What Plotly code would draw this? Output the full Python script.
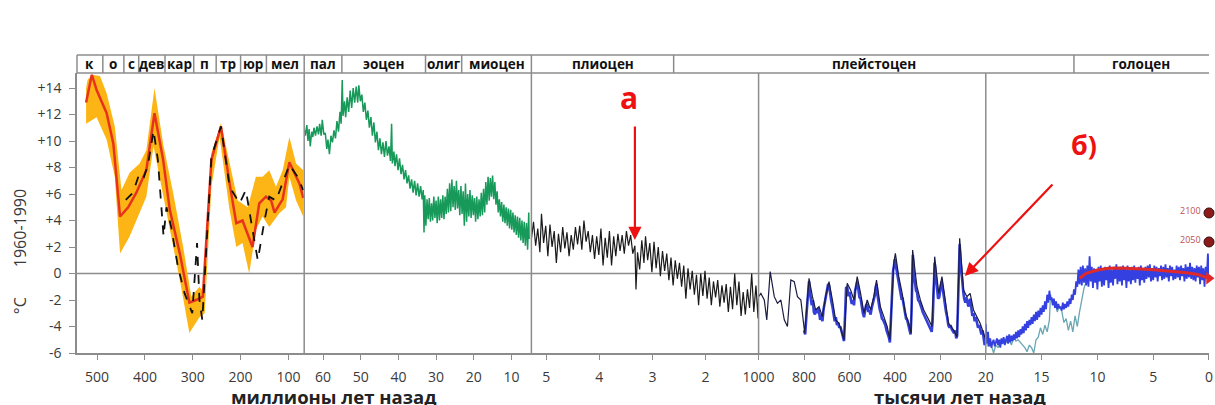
import plotly.graph_objects as go

# ---------------- data ----------------
# Segment 1: Phanerozoic (millions of years ago)
red_my = [523, 511, 501, 480, 466, 452, 435, 418, 397, 380, 362, 348, 327, 307, 293, 279, 261, 241, 223, 209, 196, 175, 161, 147, 136, 129, 119, 112, 98, 77, 69]
red_t = [12.9, 15.0, 13.85, 12.1, 9.8, 4.3, 5.0, 6.1, 7.8, 12.1, 8.6, 4.8, 1.5, -2.2, -2.0, -1.75, 8.6, 11.1, 6.8, 3.8, 4.0, 2.0, 5.3, 5.8, 5.5, 4.6, 5.2, 5.6, 8.4, 6.8, 5.7]

band_up_my = [523, 520, 511, 494, 480, 463, 449, 432, 411, 397, 380, 362, 341, 320, 303, 286, 275, 261, 241, 220, 206, 185, 168, 154, 140, 126, 112, 98, 84, 69]
band_up_t = [14.0, 14.6, 15.0, 14.9, 13.6, 11.1, 6.3, 7.6, 8.3, 9.3, 14.0, 9.8, 6.1, 2.0, -1.75, -1.0, -1.5, 9.1, 11.35, 7.8, 5.5, 5.0, 7.3, 7.3, 7.8, 6.55, 7.8, 10.3, 8.3, 7.8]
band_lo_my = [523, 501, 480, 463, 452, 432, 411, 397, 382, 362, 348, 327, 307, 286, 275, 261, 244, 223, 209, 196, 182, 168, 154, 140, 119, 105, 98, 84, 69]
band_lo_t = [11.3, 11.8, 10.1, 7.3, 1.5, 2.8, 4.55, 5.8, 9.6, 6.1, 3.3, -0.5, -4.5, -3.3, -3.0, 6.55, 10.3, 4.8, 2.0, 2.3, 0.0, 3.3, 4.3, 3.5, 4.55, 5.0, 7.3, 5.5, 4.3]

dash_my = [440, 425, 411, 402, 393, 382, 373, 361, 355, 345, 331, 317, 301, 291, 286, 280, 273, 261, 241, 223, 202, 189, 175, 164, 150, 140, 126, 112, 98, 81, 69]
dash_t = [5.55, 6.1, 7.6, 7.3, 8.3, 10.8, 8.6, 2.8, 5.0, 3.5, 0.5, -1.5, -3.0, 2.3, -2.0, -3.5, 1.0, 8.8, 11.1, 6.55, 5.3, 6.3, 3.3, 1.0, 4.0, 5.8, 5.5, 6.8, 8.2, 7.3, 6.3]

# Segment 2: Cenozoic (millions of years ago)
green_my = [65.0, 64.7, 64.3, 64.0, 63.7, 63.4, 63.0, 62.7, 62.4, 62.0, 61.6, 61.2, 60.9, 60.5, 60.2, 59.8, 59.4, 59.0, 58.7, 58.3,
            57.9, 57.5, 57.1, 56.7, 56.3, 55.9, 55.5, 55.2, 54.9, 54.7, 54.3, 54.0, 53.6, 53.2, 52.8, 52.4, 52.0, 51.6, 51.2, 50.8,
            50.5, 50.1, 49.7, 49.3, 48.9, 48.5, 48.1, 47.7, 47.3, 46.9, 46.5, 46.1, 45.7, 45.3, 44.9, 44.5, 44.1, 43.7, 43.3, 42.9,
            42.5, 42.1, 41.8, 41.6, 41.2, 40.9, 40.5, 40.1, 39.7, 39.3, 38.9, 38.5, 38.1, 37.7, 37.3, 36.9, 36.5, 36.1, 35.7, 35.3,
            34.9, 34.5, 34.1, 33.7, 33.4, 33.2, 33.0, 32.7, 32.4, 32.1, 31.8, 31.5, 31.2, 30.9, 30.6, 30.3, 30.0, 29.7, 29.4, 29.1,
            28.8, 28.5, 28.2, 27.9, 27.6, 27.3, 27.0, 26.7, 26.4, 26.1, 25.8, 25.5, 25.2, 24.9, 24.6, 24.3, 24.0, 23.7, 23.4, 23.1,
            22.8, 22.5, 22.2, 21.9, 21.6, 21.3, 21.0, 20.7, 20.4, 20.1, 19.8, 19.5, 19.2, 18.9, 18.6, 18.3, 18.0, 17.7, 17.4, 17.1,
            16.8, 16.5, 16.2, 15.9, 15.6, 15.3, 15.0, 14.7, 14.4, 14.1, 13.8, 13.5, 13.2, 12.9, 12.6, 12.3, 12.0, 11.7, 11.4, 11.1,
            10.8, 10.5, 10.2, 9.9, 9.6, 9.3, 9.0, 8.7, 8.4, 8.1, 7.8, 7.5, 7.2, 6.9, 6.6, 6.3, 6.0, 5.7, 5.4, 5.3]
green_t = [10.9, 10.4, 11.2, 10.0, 10.9, 9.6, 10.7, 10.3, 11.0, 10.4, 11.1, 10.5, 11.3, 10.4, 11.6, 10.5, 10.6, 9.4, 10.1, 9.0,
           10.4, 9.9, 10.8, 10.2, 11.5, 10.7, 12.2, 11.3, 14.6, 11.9, 13.0, 11.8, 13.3, 12.2, 13.8, 12.5, 14.0, 12.9, 14.1, 12.9,
           14.2, 13.0, 13.5, 12.2, 12.9, 11.6, 12.3, 11.0, 11.8, 10.4, 11.4, 9.9, 10.7, 9.3, 10.2, 9.0, 9.9, 8.8, 10.0, 8.9,
           9.6, 8.5, 11.3, 8.3, 9.2, 8.1, 9.0, 7.8, 8.7, 7.5, 8.2, 7.1, 7.8, 6.8, 7.4, 6.4, 7.1, 6.1, 7.0, 5.9,
           6.8, 5.8, 6.6, 5.6, 6.3, 3.1, 5.9, 3.6, 5.6, 4.1, 5.7, 3.9, 5.3, 4.0, 5.8, 4.2, 5.5, 3.8, 5.8, 4.0,
           5.6, 4.2, 5.9, 4.1, 5.8, 4.5, 6.4, 4.6, 6.8, 4.7, 7.1, 5.0, 6.6, 4.8, 7.0, 4.9, 6.3, 4.4, 6.6, 4.5,
           6.2, 3.6, 6.8, 3.9, 6.0, 4.3, 6.3, 4.2, 5.9, 4.4, 5.7, 3.9, 5.8, 4.1, 5.6, 4.3, 6.1, 4.4, 6.4, 4.6,
           6.9, 5.2, 7.3, 5.5, 7.2, 5.8, 7.4, 5.6, 6.9, 5.2, 6.2, 4.6, 5.6, 4.3, 5.4, 3.9, 5.2, 3.8, 5.0, 3.6,
           4.9, 3.4, 4.8, 3.3, 4.6, 3.1, 4.4, 2.9, 4.3, 2.7, 4.2, 2.5, 4.0, 2.3, 3.9, 2.1, 3.8, 1.8, 4.6, 2.6]

# Segment 3: Pliocene - early Pleistocene (millions of years ago)
plio_my = [5.28, 5.24, 5.20, 5.16, 5.12, 5.09, 5.05, 5.01, 4.97, 4.93, 4.89, 4.85, 4.81, 4.77, 4.73, 4.69, 4.65, 4.61, 4.57, 4.53,
           4.49, 4.45, 4.41, 4.37, 4.33, 4.29, 4.25, 4.21, 4.17, 4.13, 4.09, 4.05, 4.01, 3.97, 3.93, 3.89, 3.85, 3.81, 3.77, 3.73,
           3.69, 3.65, 3.61, 3.57, 3.53, 3.49, 3.45, 3.41, 3.37, 3.33, 3.31, 3.28, 3.24, 3.20, 3.16, 3.13, 3.09, 3.05, 3.01, 2.97,
           2.93, 2.89, 2.85, 2.81, 2.77, 2.73, 2.69, 2.65, 2.61, 2.57, 2.53, 2.49, 2.45, 2.41, 2.37, 2.33, 2.29, 2.25, 2.21, 2.17,
           2.13, 2.09, 2.05, 2.01, 1.97, 1.93, 1.89, 1.85, 1.81, 1.77, 1.73, 1.69, 1.65, 1.61, 1.57, 1.53, 1.49, 1.45, 1.41, 1.37,
           1.33, 1.29, 1.25, 1.21, 1.17, 1.13, 1.09, 1.05, 1.01, 1.00]
plio_t = [2.6, 3.9, 2.1, 3.4, 1.6, 4.5, 2.3, 3.6, 1.3, 3.7, 2.0, 3.2, 0.8, 3.0, 1.6, 3.5, 1.9, 3.1, 1.3, 2.9,
          1.8, 3.5, 2.2, 3.6, 1.8, 4.0, 2.4, 3.2, 1.6, 2.9, 1.1, 2.8, 1.4, 3.4, 0.6, 2.7, 1.2, 3.2, 0.6, 2.8,
          1.3, 3.0, 1.7, 2.9, 1.5, 3.2, 2.1, 2.9, 1.5, 2.1, -1.2, 1.6, 0.3, 2.5, 0.8, 2.8, 1.0, 2.3, 0.1, 2.4,
          0.4, 2.0, -0.2, 1.7, 0.2, 1.5, -0.5, 1.2, -0.9, 1.0, -0.4, 0.8, -1.0, 0.6, -1.9, 0.4, -1.2, 0.2, -1.6, -0.1,
          -2.4, 0.0, -1.7, 0.2, -1.9, -0.3, -2.4, -0.6, -1.8, -0.5, -2.5, -0.9, -2.2, -0.8, -2.9, -1.0, -2.7, 0.0, -2.4, -0.6,
          -3.2, -1.4, -3.1, -1.2, -2.6, 0.0, -2.9, -0.9, -3.4, -1.6]

# Segment 4: last million years (thousands of years ago)
pleist_ky = [1000, 990, 975, 964, 949, 931, 917, 902, 887, 873, 858, 843, 829, 814, 797, 778, 763, 749, 734, 719,
             705, 690, 675, 661, 646, 624, 610, 595, 580, 566, 551, 536, 522, 507, 493, 481, 464, 449, 434, 422,
             405, 398, 383, 368, 354, 339, 329, 322, 303, 288, 273, 251, 237, 225, 207, 193, 178, 164, 142, 127,
             115, 105, 98, 83, 69, 54, 39, 25, 10, 0]
pleist_t = [-1.75, -1.5, -2.0, -3.5, 0.14, -1.75, -2.25, -2.0, -3.5, -4.0, -0.49, -0.62, -1.75, -2.0, -4.5, -0.36, -1.75, -2.75, -2.5, -3.26,
            -1.75, -0.62, -2.0, -3.5, -3.76, -5.0, -0.74, -1.25, -2.0, -0.24, -1.5, -3.0, -2.0, -2.75, -1.75, -0.49, -2.5, -3.26, -4.0, -5.0,
            0.77, 1.52, -0.24, -1.5, -3.0, -3.76, -4.5, 1.77, -1.0, -2.0, -2.75, -3.5, -4.0, 1.27, -1.5, -0.24, -2.0, -3.76, -4.26, -4.77,
            2.65, 0.52, -1.25, -1.75, -1.5, -2.75, -3.26, -3.76, -4.5, -5.0]

ice_ky = [800, 795, 788, 782, 778, 774, 770, 766, 761, 757, 752, 748, 743, 738, 734, 729, 724, 719, 714, 709,
          704, 699, 694, 690, 685, 680, 675, 670, 665, 660, 655, 650, 645, 640, 635, 630, 624, 619, 615, 610,
          605, 600, 595, 590, 585, 580, 575, 570, 566, 561, 556, 551, 546, 541, 536, 531, 527, 522, 517, 512,
          507, 502, 497, 493, 488, 484, 481, 477, 472, 467, 462, 457, 452, 447, 442, 437, 432, 427, 422, 417,
          412, 408, 404, 400, 396, 391, 386, 381, 376, 371, 366, 361, 356, 351, 346, 341, 336, 331, 327, 324,
          321, 317, 312, 307, 303, 298, 293, 288, 283, 278, 273, 268, 263, 258, 253, 248, 243, 238, 234, 229,
          225, 220, 215, 210, 205, 200, 195, 190, 185, 180, 175, 170, 165, 160, 155, 150, 145, 140, 135, 130,
          126, 122, 118, 115, 111, 107, 103, 99, 95, 90, 86, 82, 77, 73, 69, 64, 59, 54, 49, 44,
          39, 34, 29, 24, 19, 14, 9, 5, 0]
ice_t = [-4.3, -4.6, -2.8, -1.2, -0.6, -1.4, -1.8, -2.4, -2.0, -2.9, -3.1, -2.7, -3.0, -2.6, -2.9, -3.5, -3.1, -3.6, -2.7, -2.2,
         -1.8, -1.4, -0.8, -0.9, -1.6, -2.1, -2.5, -3.0, -3.6, -3.3, -3.9, -3.7, -4.1, -4.0, -4.4, -4.6, -5.1, -3.0, -1.1, -1.0,
         -1.7, -1.4, -1.9, -2.3, -2.0, -2.4, -1.3, -0.8, -0.6, -1.2, -1.8, -1.9, -2.6, -3.0, -3.3, -2.7, -2.4, -2.3, -2.9, -2.8,
         -3.1, -2.6, -2.2, -2.0, -1.6, -1.0, -0.8, -1.6, -2.3, -2.7, -3.0, -3.4, -3.5, -3.7, -3.9, -4.3, -4.5, -4.8, -5.2, -3.0,
         -1.2, 0.2, 0.6, 1.1, 0.6, 0.0, -0.6, -0.9, -1.4, -1.9, -1.9, -2.4, -2.9, -3.4, -3.5, -3.9, -4.2, -4.6, -3.0, 1.1,
         1.4, 0.0, -0.8, -1.3, -1.4, -2.0, -2.1, -2.3, -2.6, -2.9, -3.1, -3.3, -3.5, -3.6, -3.9, -4.0, -4.2, -4.4, -3.6, -1.0,
         0.8, -0.2, -1.4, -1.9, -1.8, -1.2, -0.6, -1.1, -1.8, -2.4, -2.9, -3.3, -3.9, -4.1, -3.9, -4.2, -4.4, -4.5, -4.3, -4.9,
         -4.7, -1.5, 1.3, 2.2, 0.9, 0.0, -1.0, -1.4, -1.9, -2.2, -1.8, -2.0, -2.5, -2.3, -1.9, -2.6, -3.2, -3.0, -3.6, -3.3,
         -3.8, -4.1, -3.9, -4.4, -4.6, -4.3, -5.0, -5.4, -5.2]

# Segment 5: last 20 thousand years (thousands of years ago)
holo_ky = [20.0, 19.9, 19.8, 19.7, 19.6, 19.5, 19.4, 19.3, 19.2, 19.0, 18.9, 18.8, 18.7, 18.6, 18.5, 18.4, 18.3, 18.2, 18.1, 18.0,
           17.9, 17.8, 17.7, 17.6, 17.5, 17.4, 17.3, 17.2, 17.1, 17.0, 16.9, 16.8, 16.7, 16.6, 16.5, 16.4, 16.3, 16.2, 16.1, 16.0,
           15.9, 15.8, 15.7, 15.6, 15.5, 15.4, 15.3, 15.2, 15.1, 15.0, 14.9, 14.8, 14.7, 14.6, 14.5, 14.4, 14.3, 14.2, 14.1, 14.0,
           13.9, 13.8, 13.7, 13.6, 13.5, 13.4, 13.3, 13.2, 13.1, 13.0, 12.9, 12.8, 12.7, 12.6, 12.5, 12.4, 12.3, 12.2, 12.1, 12.0,
           11.9, 11.8, 11.7, 11.6, 11.5, 11.4, 11.3, 11.2, 11.1, 11.0, 10.9, 10.8, 10.7, 10.6, 10.5, 10.4, 10.3, 10.2, 10.1, 10.0,
           9.9, 9.8, 9.7, 9.6, 9.5, 9.4, 9.3, 9.2, 9.1, 9.0, 8.9, 8.8, 8.7, 8.6, 8.5, 8.4, 8.3, 8.2, 8.1, 8.0,
           7.9, 7.8, 7.7, 7.6, 7.5, 7.4, 7.3, 7.2, 7.1, 7.0, 6.9, 6.8, 6.7, 6.6, 6.5, 6.4, 6.3, 6.2, 6.1, 6.0,
           5.9, 5.8, 5.7, 5.6, 5.5, 5.4, 5.3, 5.2, 5.1, 5.0, 4.9, 4.8, 4.7, 4.6, 4.5, 4.4, 4.3, 4.2, 4.1, 4.0,
           3.9, 3.8, 3.7, 3.6, 3.5, 3.4, 3.3, 3.2, 3.1, 3.0, 2.9, 2.8, 2.7, 2.6, 2.5, 2.4, 2.3, 2.2, 2.1, 2.0,
           1.9, 1.8, 1.7, 1.6, 1.5, 1.4, 1.3, 1.2, 1.1, 1.0, 0.9, 0.8, 0.7, 0.6, 0.5, 0.4, 0.3, 0.2, 0.1, 0.0]
holo_t = [-3.8, -5.3, -4.4, -5.5, -4.9, -5.6, -5.2, -5.0, -5.5, -4.9, -5.4, -5.0, -5.6, -4.9, -5.3, -4.8, -5.4, -5.0, -4.7, -5.3,
          -4.6, -5.2, -4.7, -5.1, -4.6, -5.0, -4.4, -4.9, -4.3, -4.8, -4.2, -4.6, -4.0, -4.5, -3.8, -4.3, -3.6, -4.1, -3.5, -3.9,
          -3.3, -3.8, -3.1, -3.6, -2.9, -3.5, -2.8, -3.3, -2.6, -3.1, -2.4, -2.9, -2.1, -2.7, -1.6, -2.2, -1.3, -2.0, -1.8, -2.4,
          -1.9, -2.6, -2.1, -2.7, -2.3, -2.6, -2.5, -2.8, -2.2, -2.7, -2.3, -2.6, -2.1, -2.5, -1.9, -2.3, -1.6, -2.0, -1.2, -1.6,
          -0.6, -1.0, 0.3, -0.8, 0.5, -0.9, 0.6, -0.7, 0.4, -0.9, 0.6, -1.0, 1.3, -0.6, 0.5, -1.1, 0.4, -0.7, 0.2, -1.2,
          0.5, -0.6, 0.6, -1.0, 0.3, -0.9, 0.5, -0.5, 0.4, -1.1, 0.6, -0.7, 0.3, -0.9, 0.5, -0.4, 0.7, -0.8, 0.4, -0.6,
          0.5, -0.9, 0.6, -0.5, 0.4, -1.1, 0.6, -0.6, 0.3, -0.8, 0.5, -0.5, 0.6, -0.7, 0.4, -0.4, 0.5, -0.9, 0.6, -0.5,
          0.3, -0.7, 0.5, -0.4, 0.6, -0.3, 0.7, -0.6, 0.4, -0.5, 0.6, -0.3, 0.5, -0.6, 0.4, -0.2, 0.6, -0.5, 0.5, -0.4,
          0.7, -0.3, 0.4, -0.6, 0.6, -0.2, 0.5, -0.5, 0.3, -0.4, 0.6, -0.3, 0.5, -0.5, 0.6, -0.2, 0.4, -0.6, 0.7, -0.4,
          0.5, -0.3, 0.8, -0.4, 0.5, -0.5, 0.4, -0.6, 0.6, -0.3, 0.5, -0.8, 0.6, -0.5, 0.4, -1.0, 0.5, -0.4, 1.5, -0.2]

teal_ky = [20.0, 19.8, 19.6, 19.4, 19.3, 19.1, 18.9, 18.7, 18.5, 18.3, 18.1, 17.9, 17.7, 17.5, 17.3, 17.1, 16.9, 16.7, 16.5, 16.3,
           16.1, 15.9, 15.7, 15.5, 15.3, 15.1, 14.9, 14.7, 14.5, 14.3, 14.2, 14.0, 13.8, 13.6, 13.4, 13.2, 13.0, 12.8, 12.6, 12.4,
           12.2, 12.0, 11.8, 11.6, 11.4, 11.2, 11.0, 10.8, 10.5, 10.0, 9.0, 8.0, 7.0, 6.0, 5.0, 4.0, 3.0, 2.0, 1.0, 0.0]
teal_t = [-5.0, -5.5, -5.2, -5.8, -6.0, -5.4, -5.6, -5.1, -5.3, -5.0, -5.2, -5.0, -5.4, -4.8, -5.1, -5.0, -5.2, -5.4, -5.6, -5.9,
          -5.4, -5.6, -6.0, -5.0, -4.8, -4.1, -4.6, -3.9, -4.4, -3.5, -1.6, -2.3, -2.1, -2.9, -2.5, -2.8, -3.7, -3.4, -4.3, -3.6,
          -4.4, -3.2, -4.0, -2.9, -2.0, -1.1, -0.6, -0.4, -0.2, 0.0, 0.1, 0.1, 0.0, 0.1, 0.0, 0.0, 0.1, 0.0, 0.0, 0.0]

trend_ky = [11.6, 11.0, 10.0, 9.0, 8.0, 7.0, 6.0, 5.0, 4.0, 3.0, 2.0, 1.0, 0.3, 0.0]
trend_t = [-0.36, 0.01, 0.26, 0.39, 0.42, 0.40, 0.34, 0.28, 0.22, 0.15, 0.06, -0.08, -0.25, -0.36]

proj_labels = ["2100", "2050"]
proj_t = [4.57, 2.38]

# axes / header
seg_ranges = [(542, 67), (65, 4.7), (5.28, 1.0), (1000, 0), (20, 0)]
seg_ticks = [[500, 400, 300, 200, 100], [60, 50, 40, 30, 20, 10], [5, 4, 3, 2], [1000, 800, 600, 400, 200], [20, 15, 10, 5, 0]]
y_ticks = [-6, -4, -2, 0, 2, 4, 6, 8, 10, 12, 14]
y_ticktext = ["-6", "-4", "-2", "0", "+2", "+4", "+6", "+8", "+10", "+12", "+14"]

period_names = ["к", "о", "с", "дев", "кар", "п", "тр", "юр", "мел", "пал", "эоцен", "олиг", "миоцен", "плиоцен", "плейстоцен", "голоцен"]
period_bounds = [(0, 542), (0, 488), (0, 444), (0, 413), (0, 358), (0, 298), (0, 251), (0, 200), (0, 146), (1, 65), (1, 55),
                 (1, 32.8), (1, 23.2), (2, 5.28), (2, 2.6), (4, 12.1), (4, 0)]

# ---------------- figure ----------------
W, H = 1215, 405
ML, MR, MT, MB = 77, 2, 73, 52
plot_w = W - ML - MR
plot_h = H - MT - MB
seg_px = [228, 228, 228, 228, plot_w - 4 * 228]
domains = []
acc = 0
for w in seg_px:
    domains.append((acc / plot_w, (acc + w) / plot_w))
    acc += w
header_top = 1 + 18 / plot_h

FONT = "Open Sans"
GRAY = "#8c8c8c"
axnames = ["x", "x2", "x3", "x4", "x5"]


def to_paper(seg, v):
    r0, r1 = seg_ranges[seg]
    d0, d1 = domains[seg]
    return d0 + (v - r0) / (r1 - r0) * (d1 - d0)


fig = go.Figure()

# segment 1
fig.add_trace(go.Scatter(x=band_up_my + band_lo_my[::-1], y=band_up_t + band_lo_t[::-1], xaxis="x", yaxis="y",
                         fill="toself", fillcolor="#fdb515", line=dict(width=0), mode="lines", hoverinfo="skip"))
fig.add_trace(go.Scatter(x=red_my, y=red_t, xaxis="x", yaxis="y", mode="lines",
                         line=dict(color="#e8321c", width=2.5)))
fig.add_trace(go.Scatter(x=dash_my, y=dash_t, xaxis="x", yaxis="y", mode="lines",
                         line=dict(color="#111111", width=1.8, dash="dash")))
# segment 2
fig.add_trace(go.Scatter(x=green_my, y=green_t, xaxis="x2", yaxis="y", mode="lines",
                         line=dict(color="#17995a", width=1.5)))
# segment 3
fig.add_trace(go.Scatter(x=plio_my, y=plio_t, xaxis="x3", yaxis="y", mode="lines",
                         line=dict(color="#1a1a1a", width=1.2)))
# segment 4
fig.add_trace(go.Scatter(x=ice_ky, y=ice_t, xaxis="x4", yaxis="y", mode="lines",
                         line=dict(color="#3440d8", width=2.6)))
fig.add_trace(go.Scatter(x=pleist_ky, y=pleist_t, xaxis="x4", yaxis="y", mode="lines",
                         line=dict(color="#1c1c40", width=1.2)))
# segment 5
fig.add_trace(go.Scatter(x=teal_ky, y=teal_t, xaxis="x5", yaxis="y", mode="lines",
                         line=dict(color="#6aa6b4", width=1.3)))
fig.add_trace(go.Scatter(x=holo_ky, y=holo_t, xaxis="x5", yaxis="y", mode="lines",
                         line=dict(color="#3440e0", width=1.8)))
fig.add_trace(go.Scatter(x=trend_ky, y=trend_t, xaxis="x5", yaxis="y", mode="lines",
                         line=dict(color="#e02a2a", width=3)))
fig.add_trace(go.Scatter(x=[trend_ky[-1]], y=[trend_t[-1]], xaxis="x5", yaxis="y", mode="markers",
                         marker=dict(symbol="triangle-right", size=11, color="#e02a2a"), cliponaxis=False))
fig.add_trace(go.Scatter(x=[0, 0], y=proj_t, xaxis="x5", yaxis="y", mode="markers",
                         marker=dict(size=10, color="#8b1a1a", line=dict(color="#3a0a0a", width=1)), cliponaxis=False))

layout = dict(
    width=W, height=H, margin=dict(l=ML, r=MR, t=MT, b=MB),
    paper_bgcolor="white", plot_bgcolor="white", showlegend=False,
    font=dict(family=FONT, color="#3a3a3a", size=14),
    yaxis=dict(range=[-6, 14 + 15 / 13.25], tickvals=y_ticks, ticktext=y_ticktext, showgrid=False, zeroline=False,
               showline=True, linecolor=GRAY, linewidth=1.5, ticks="outside", ticklen=6, tickcolor=GRAY,
               ticklabelstandoff=5, tickfont=dict(size=14, color="#3a3a3a")),
)
for i, name in enumerate(axnames):
    key = "xaxis" if i == 0 else "xaxis%d" % (i + 1)
    layout[key] = dict(domain=list(domains[i]), range=list(seg_ranges[i]), anchor="y", tickvals=seg_ticks[i],
                       showgrid=False, zeroline=False, showline=True, linecolor=GRAY, linewidth=1.5,
                       ticks="outside", ticklen=5, tickcolor=GRAY, ticklabelstandoff=5,
                       ticklabeloverflow="allow", tickfont=dict(size=14, color="#3a3a3a"))
fig.update_layout(**layout)

shapes = []
# zero line
shapes.append(dict(type="line", xref="paper", yref="y", x0=0, x1=1, y0=0, y1=0, line=dict(color=GRAY, width=1.5), layer="below"))
# segment dividers
for d0, d1 in domains[1:]:
    shapes.append(dict(type="line", xref="paper", yref="paper", x0=d0, x1=d0, y0=0, y1=1, line=dict(color=GRAY, width=1.5)))
# header band
shapes.append(dict(type="line", xref="paper", yref="paper", x0=0, x1=1, y0=header_top, y1=header_top, line=dict(color=GRAY, width=1.5)))
shapes.append(dict(type="line", xref="paper", yref="paper", x0=0, x1=1, y0=1, y1=1, line=dict(color=GRAY, width=1.5)))
for seg, v in period_bounds[:-1]:
    xp = to_paper(seg, v)
    shapes.append(dict(type="line", xref="paper", yref="paper", x0=xp, x1=xp, y0=1, y1=header_top, line=dict(color=GRAY, width=1.5)))
fig.update_layout(shapes=shapes)

ann = []
for k, name in enumerate(period_names):
    a = to_paper(*period_bounds[k])
    b = to_paper(*period_bounds[k + 1])
    ann.append(dict(xref="paper", yref="paper", x=(a + b) / 2, y=(1 + header_top) / 2, text="<b>%s</b>" % name,
                    showarrow=False, font=dict(size=13.5, color="#111111"), xanchor="center", yanchor="middle"))
# axis titles
ann.append(dict(xref="paper", yref="paper", x=(334 - ML) / plot_w, y=-43 / plot_h, text="<b>миллионы лет назад</b>",
                showarrow=False, font=dict(size=18.5, color="#222222"), xanchor="center", yanchor="middle"))
ann.append(dict(xref="paper", yref="paper", x=(963 - ML) / plot_w, y=-43 / plot_h, text="<b>тысячи лет назад</b>",
                showarrow=False, font=dict(size=18.5, color="#222222"), xanchor="center", yanchor="middle"))
ann.append(dict(xref="paper", yref="paper", x=(20 - ML) / plot_w, y=47 / plot_h, text="°C", textangle=-90,
                showarrow=False, font=dict(size=16, color="#3a3a3a"), xanchor="center", yanchor="middle"))
ann.append(dict(xref="paper", yref="paper", x=(20 - ML) / plot_w, y=125 / plot_h, text="1960-1990", textangle=-90,
                showarrow=False, font=dict(size=16, color="#3a3a3a"), xanchor="center", yanchor="middle"))
# markers a / b
ann.append(dict(xref="x3", yref="y", x=3.33, y=2.53, ax=0, ay=-115, text="", showarrow=True,
                arrowhead=2, arrowsize=1.2, arrowwidth=2.2, arrowcolor="#ee1111"))
ann.append(dict(xref="x3", yref="y", x=3.45, y=13.3, text="<b>а</b>", showarrow=False,
                font=dict(size=30, color="#ee1111"), xanchor="center", yanchor="middle"))
ann.append(dict(xref="x4", yref="y", x=92, y=-0.19, ax=89, ay=-93, text="", showarrow=True,
                arrowhead=2, arrowsize=1.2, arrowwidth=2.2, arrowcolor="#ee1111"))
ann.append(dict(xref="x5", yref="y", x=11.16, y=9.7, text="<b>б)</b>", showarrow=False,
                font=dict(size=27, color="#ee1111"), xanchor="center", yanchor="middle"))
for lab, t in zip(proj_labels, proj_t):
    ann.append(dict(xref="x5", yref="y", x=0.55, y=t + 0.15, text=lab, showarrow=False,
                    font=dict(size=9, color="#c0504d"), xanchor="right", yanchor="middle"))
fig.update_layout(annotations=ann)

fig.write_html("out.html", config={"displayModeBar": False},
               post_script="document.documentElement.style.overflow='hidden';"
                           "document.body.style.overflow='hidden';document.body.style.margin='0px';"
                           "var gdv=document.getElementsByClassName('plotly-graph-div');"
                           "for(var i=0;i<gdv.length;i++){gdv[i].style.overflow='hidden';"
                           "var svs=gdv[i].getElementsByTagName('svg');"
                           "for(var j=0;j<svs.length;j++){svs[j].style.overflow='hidden';}}")
